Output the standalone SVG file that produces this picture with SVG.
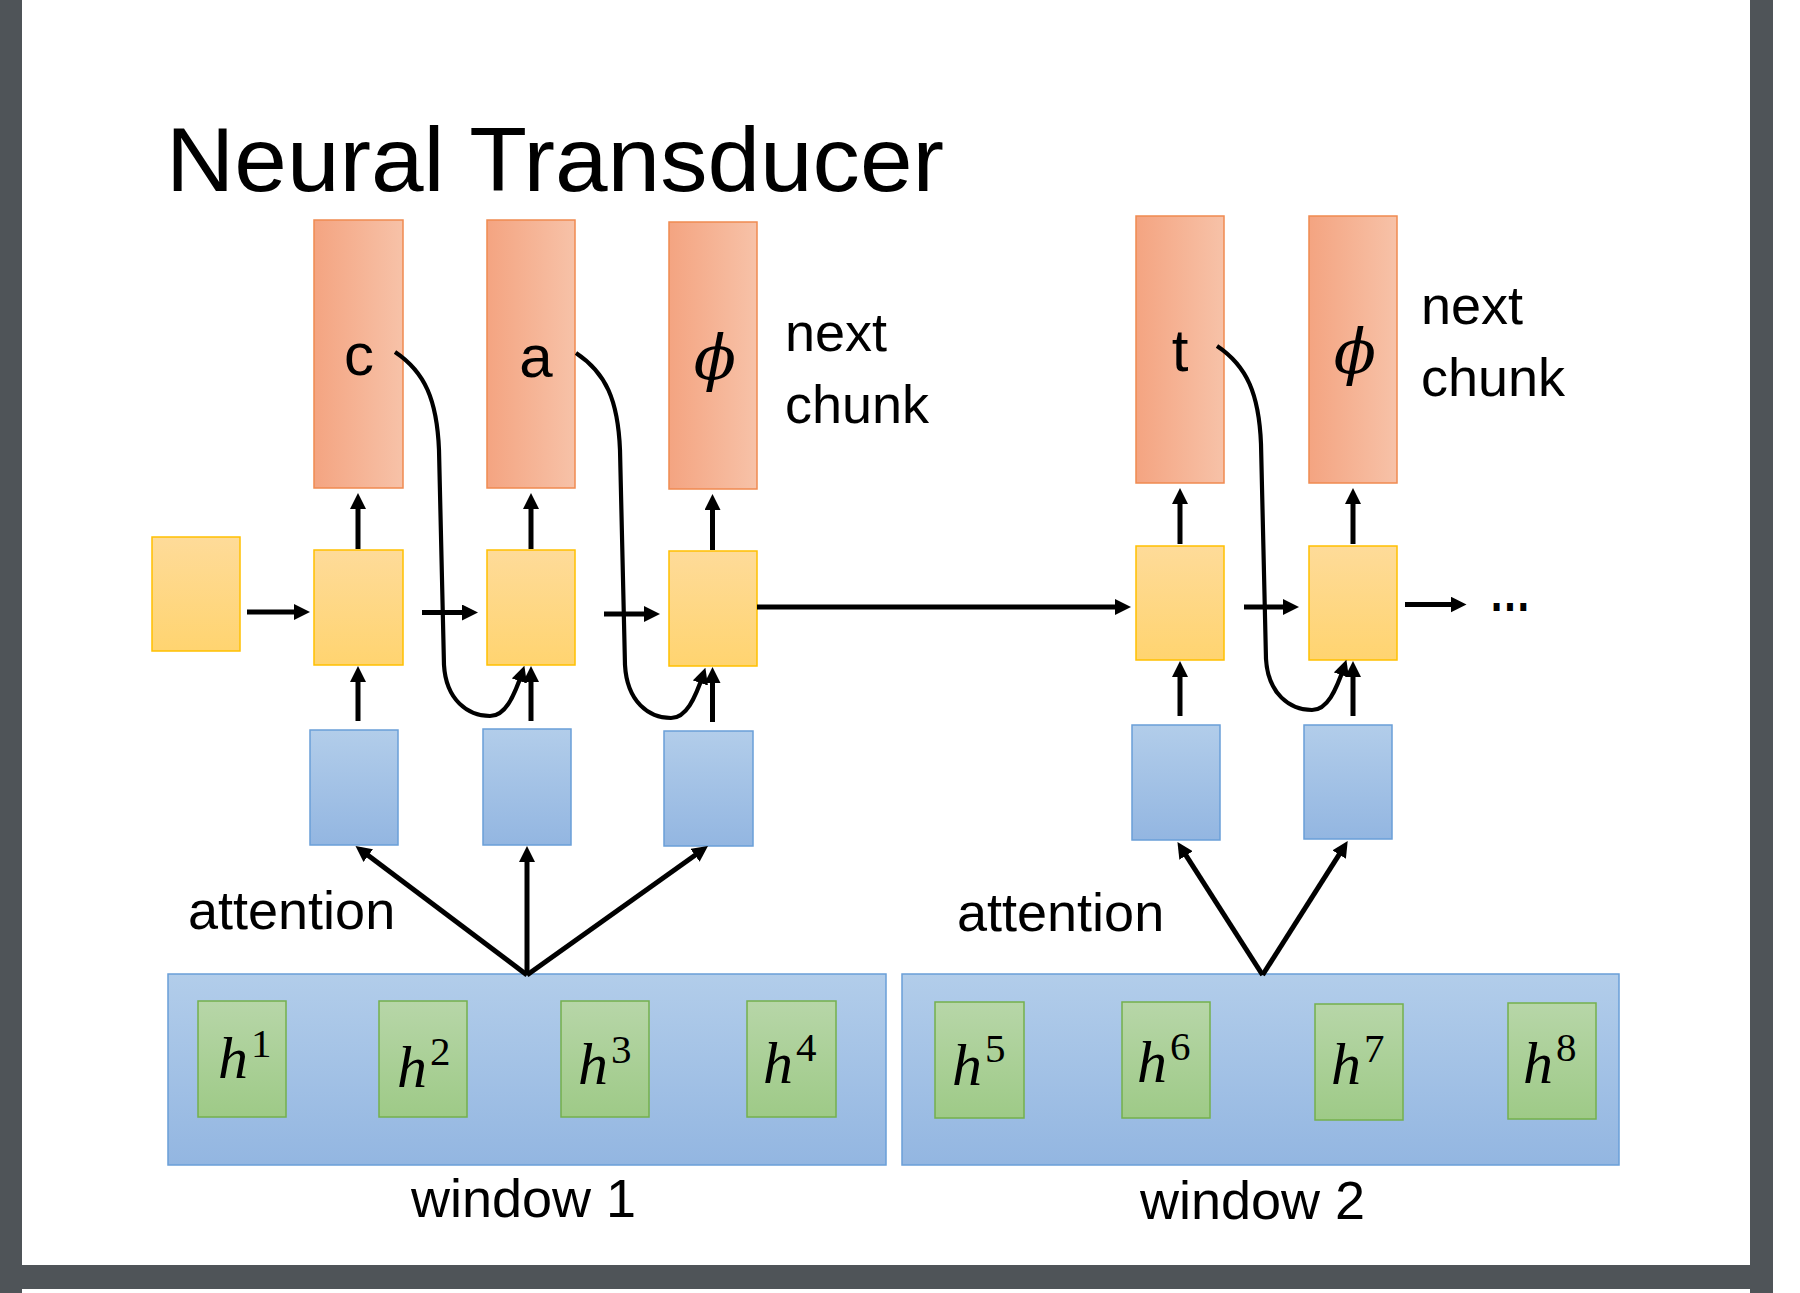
<svg xmlns="http://www.w3.org/2000/svg" width="1800" height="1293" viewBox="0 0 1800 1293">
<defs>
<linearGradient id="gRed" x1="0" y1="0" x2="1" y2="0"><stop offset="0" stop-color="#F4A481"/><stop offset="1" stop-color="#F7C2A8"/></linearGradient>
<linearGradient id="gYel" x1="0" y1="0" x2="0" y2="1"><stop offset="0" stop-color="#FEDB99"/><stop offset="1" stop-color="#FFD470"/></linearGradient>
<linearGradient id="gBlue" x1="0" y1="0" x2="0" y2="1"><stop offset="0" stop-color="#B2CDEA"/><stop offset="1" stop-color="#93B6E1"/></linearGradient>
<linearGradient id="gGreen" x1="0" y1="0" x2="0" y2="1"><stop offset="0" stop-color="#B7D6A8"/><stop offset="1" stop-color="#9ECA87"/></linearGradient>
<marker id="ah" viewBox="0 0 16 16" refX="10" refY="8" markerWidth="16" markerHeight="16" markerUnits="userSpaceOnUse" orient="auto"><path d="M0,0 L16,8 L0,16 z" fill="#000"/></marker>
</defs>
<style>
.red{fill:url(#gRed);stroke:#F08A50;stroke-width:1.5}
.yel{fill:url(#gYel);stroke:#FFC000;stroke-width:1.5}
.blue{fill:url(#gBlue);stroke:#6A9FD8;stroke-width:1.5}
.win{fill:url(#gBlue);stroke:#6A9FD8;stroke-width:1.5}
.green{fill:url(#gGreen);stroke:#74B04C;stroke-width:1.5}
.t{font-family:"Liberation Sans",Arial,sans-serif;fill:#000}
.lbl{font-family:"Liberation Sans",Arial,sans-serif;font-size:54px;fill:#000}
.sym{font-family:"Liberation Sans",Arial,sans-serif;font-size:60px;fill:#000;text-anchor:middle}
.phi{font-family:"DejaVu Serif","Liberation Serif",serif;font-style:italic;font-size:62px;fill:#000;text-anchor:middle}
.h{font-family:"Liberation Serif","DejaVu Serif",serif;font-size:60px;fill:#000}
.h .v{font-style:italic}
.h .s{font-size:41px;font-style:normal}
.arr{stroke:#000;stroke-width:5;fill:none;marker-end:url(#ah)}
.cur{stroke:#000;stroke-width:4.2;fill:none;marker-end:url(#ah)}
</style>
<rect x="0" y="0" width="1800" height="1293" fill="#FFFFFF"/>
<g id="frame" fill="#4F5458">
<rect x="0" y="0" width="22" height="1293"/>
<rect x="1750" y="0" width="23" height="1293"/>
<rect x="0" y="1265" width="1773" height="24"/>
</g>
<text id="title" class="t" x="166" y="191" font-size="91" textLength="778" lengthAdjust="spacingAndGlyphs">Neural Transducer</text>

<g id="out-c"><rect class="red" x="314" y="220" width="89" height="268"/><text class="sym" x="359" y="375">c</text></g>
<g id="out-a"><rect class="red" x="487" y="220" width="88" height="268"/><text class="sym" x="536" y="377">a</text></g>
<g id="out-phi1"><rect class="red" x="669" y="222" width="88" height="267"/><text class="phi" x="715" y="379">ϕ</text></g>
<g id="out-t"><rect class="red" x="1136" y="216" width="88" height="267"/><text class="sym" x="1180" y="371">t</text></g>
<g id="out-phi2"><rect class="red" x="1309" y="216" width="88" height="267"/><text class="phi" x="1355" y="373">ϕ</text></g>
<g id="next1"><text class="lbl" x="785" y="351">next</text><text class="lbl" x="785" y="423">chunk</text></g>
<g id="next2"><text class="lbl" x="1421" y="324">next</text><text class="lbl" x="1421" y="396">chunk</text></g>

<g id="s0"><rect class="yel" x="152" y="537" width="88" height="114"/></g>
<g id="s1"><rect class="yel" x="314" y="550" width="89" height="115"/></g>
<g id="s2"><rect class="yel" x="487" y="550" width="88" height="115"/></g>
<g id="s3"><rect class="yel" x="669" y="551" width="88" height="115"/></g>
<g id="s4"><rect class="yel" x="1136" y="546" width="88" height="114"/></g>
<g id="s5"><rect class="yel" x="1309" y="546" width="88" height="114"/></g>
<g id="ellipsis"><text class="lbl" x="1489" y="611" font-weight="bold" textLength="42" lengthAdjust="spacingAndGlyphs">…</text></g>

<g id="c1"><rect class="blue" x="310" y="730" width="88" height="115"/></g>
<g id="c2"><rect class="blue" x="483" y="729" width="88" height="116"/></g>
<g id="c3"><rect class="blue" x="664" y="731" width="89" height="115"/></g>
<g id="c4"><rect class="blue" x="1132" y="725" width="88" height="115"/></g>
<g id="c5"><rect class="blue" x="1304" y="725" width="88" height="114"/></g>

<g id="att1"><text class="lbl" x="188" y="929">attention</text></g>
<g id="att2"><text class="lbl" x="957" y="931">attention</text></g>

<g id="window1"><rect class="win" x="168" y="974" width="718" height="191"/><text class="lbl" x="411" y="1217">window 1</text></g>
<g id="window2"><rect class="win" x="902" y="974" width="717" height="191"/><text class="lbl" x="1140" y="1219">window 2</text></g>

<g id="h1"><rect class="green" x="198" y="1001" width="88" height="116"/><text class="h" x="218" y="1078"><tspan class="v">h</tspan><tspan class="s" dx="3" dy="-21">1</tspan></text></g>
<g id="h2"><rect class="green" x="379" y="1001" width="88" height="116"/><text class="h" x="397" y="1087"><tspan class="v">h</tspan><tspan class="s" dx="3" dy="-22">2</tspan></text></g>
<g id="h3"><rect class="green" x="561" y="1001" width="88" height="116"/><text class="h" x="578" y="1084"><tspan class="v">h</tspan><tspan class="s" dx="3" dy="-21">3</tspan></text></g>
<g id="h4"><rect class="green" x="747" y="1001" width="89" height="116"/><text class="h" x="763" y="1083"><tspan class="v">h</tspan><tspan class="s" dx="3" dy="-22">4</tspan></text></g>
<g id="h5"><rect class="green" x="935" y="1002" width="89" height="116"/><text class="h" x="952" y="1085"><tspan class="v">h</tspan><tspan class="s" dx="3" dy="-23">5</tspan></text></g>
<g id="h6"><rect class="green" x="1122" y="1002" width="88" height="116"/><text class="h" x="1137" y="1082"><tspan class="v">h</tspan><tspan class="s" dx="3" dy="-22">6</tspan></text></g>
<g id="h7"><rect class="green" x="1315" y="1004" width="88" height="116"/><text class="h" x="1331" y="1084"><tspan class="v">h</tspan><tspan class="s" dx="3" dy="-22">7</tspan></text></g>
<g id="h8"><rect class="green" x="1508" y="1003" width="88" height="116"/><text class="h" x="1523" y="1083"><tspan class="v">h</tspan><tspan class="s" dx="3" dy="-22">8</tspan></text></g>

<g id="connectors">
<line class="arr" x1="358" y1="549" x2="358" y2="499"/>
<line class="arr" x1="531" y1="549" x2="531" y2="499"/>
<line class="arr" x1="712.5" y1="550" x2="712.5" y2="500"/>
<line class="arr" x1="1180" y1="544" x2="1180" y2="494"/>
<line class="arr" x1="1353" y1="544" x2="1353" y2="494"/>
<line class="arr" x1="358" y1="721" x2="358" y2="672"/>
<line class="arr" x1="531" y1="721" x2="531" y2="672"/>
<line class="arr" x1="712.5" y1="722" x2="712.5" y2="673"/>
<line class="arr" x1="1180" y1="716" x2="1180" y2="667"/>
<line class="arr" x1="1353" y1="716" x2="1353" y2="667"/>
<line class="arr" x1="247" y1="612" x2="304" y2="612"/>
<line class="arr" x1="422" y1="612.5" x2="472" y2="612.5"/>
<line class="arr" x1="604" y1="614" x2="654" y2="614"/>
<line class="arr" x1="757" y1="607" x2="1125" y2="607"/>
<line class="arr" x1="1244" y1="607" x2="1293" y2="607"/>
<line class="arr" x1="1405" y1="604.5" x2="1460.5" y2="604.5"/>
<line class="arr" x1="527" y1="975" x2="360.3" y2="849.6"/>
<line class="arr" x1="527" y1="975" x2="527" y2="852"/>
<line class="arr" x1="527" y1="975" x2="703.1" y2="849.5"/>
<line class="arr" x1="1262.6" y1="975" x2="1180.7" y2="847.1"/>
<line class="arr" x1="1262.6" y1="975" x2="1344.5" y2="846.1"/>
<path class="cur" d="M395,352 C425,372 437,400 439,450 L444,665 C446,700 468,716 490,716 C505,716 514,697 522.5,671.5"/>
<path class="cur" d="M576,353 C606,373 618,400 620,450 L625,665 C627,702 649,718 671,718 C686,718 695,699 703.5,673.5"/>
<path class="cur" d="M1217,346 C1247,366 1259,394 1261,444 L1266,659 C1268,694 1290,710 1312,710 C1327,710 1336,691 1344.5,665.5"/>
</g>
</svg>
